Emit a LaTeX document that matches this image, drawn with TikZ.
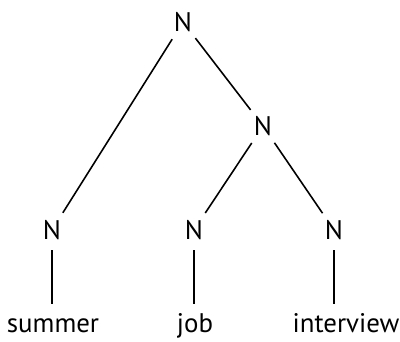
\documentclass[tikz,border=0pt]{standalone}
\usepackage{fontspec}
\setmainfont{PT Sans}
\usetikzlibrary{positioning}

\begin{document}
\begin{tikzpicture}[
    x=0.02cm, y=-0.02cm,
    cat/.style={circle, minimum size=0.8cm, inner sep=0pt,
                font=\fontsize{15.3}{17}\selectfont},
    word/.style={text height=10.5pt, text depth=3pt, inner sep=2pt, outer sep=4pt,
                 font=\fontsize{15.3}{17}\selectfont},
    branch/.style={draw, line width=0.9pt},
  ]
    \useasboundingbox (0,0) rectangle (400,342);

    % categories
    \node[cat] (root) at (183,22) {N};
    \node[cat] (mid)  at (263,126) {N};
    \node[cat] (n1)   at (52,230) {N};
    \node[cat] (n2)   at (194,230) {N};
    \node[cat] (n3)   at (334,230) {N};

    % words
    \node[word] (w1) at (53,326) {summer};
    \node[word] (w2) at (195,326) {job};
    \node[word] (w3) at (346,326) {interview};

    % branches
    \draw[branch] (root) -- (n1);
    \draw[branch] (root) -- (mid);
    \draw[branch] (mid) -- (n2);
    \draw[branch] (mid) -- (n3);
    \draw[branch] (n1) -- (n1 |- w1.north);
    \draw[branch] (n2) -- (n2 |- w2.north);
    \draw[branch] (n3) -- (n3 |- w3.north);
  \end{tikzpicture}
\end{document}
